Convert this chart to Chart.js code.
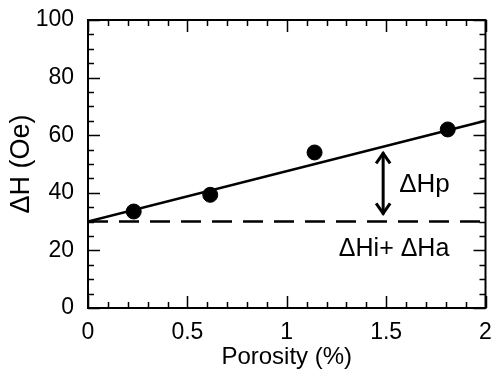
<!DOCTYPE html>
<html>
<head>
<meta charset="utf-8">
<script src="https://cdn.jsdelivr.net/npm/chart.js@4/dist/chart.umd.min.js"></script>
<style>
html,body{margin:0;padding:0;background:#fff;}
#wrap{width:494px;height:372px;}
</style>
</head>
<body>
<div id="wrap"><canvas id="c" width="494" height="372"></canvas></div>
<script>
// Data
const porosity = [0.23, 0.615, 1.14, 1.81];
const deltaH = [33.5, 39.3, 54, 62];
const fitX = [0, 2];
const fitY = [30, 65];
const baseX = [0, 2];
const baseY = [30, 30];
const xTickValues = [0, 0.5, 1, 1.5, 2];
const xTickLabels = ['0', '0.5', '1', '1.5', '2'];
const yTickValues = [0, 20, 40, 60, 80, 100];
const arrowX = 1.485;
const arrowFrom = 32.5;
const arrowTo = 54;
const labelHp = 'ΔHp';
const labelHiHa = 'ΔHi+ ΔHa';

const FONT = '"Liberation Sans", Arial, Helvetica, sans-serif';

const frame = {
  id: 'frame',
  afterDatasetsDraw(chart) {
    const {ctx, chartArea: a, scales: {x, y}} = chart;
    ctx.save();
    ctx.strokeStyle = '#000';
    ctx.lineWidth = 2;
    ctx.strokeRect(a.left, a.top, a.right - a.left, a.bottom - a.top);
    ctx.lineWidth = 1.5;
    for (let i = 0; i <= 20; i++) {
      const v = i / 10;
      const px = Math.round(x.getPixelForValue(v)) + 0.5;
      const len = (i % 5 === 0) ? 12 : 6;
      ctx.beginPath();
      ctx.moveTo(px, a.bottom); ctx.lineTo(px, a.bottom - len);
      ctx.moveTo(px, a.top); ctx.lineTo(px, a.top + len);
      ctx.stroke();
    }
    for (let i = 0; i <= 20; i++) {
      const v = i * 5;
      const py = Math.round(y.getPixelForValue(v)) + 0.5;
      const len = (i % 4 === 0) ? 12 : 6;
      ctx.beginPath();
      ctx.moveTo(a.left, py); ctx.lineTo(a.left + len, py);
      ctx.moveTo(a.right, py); ctx.lineTo(a.right - len, py);
      ctx.stroke();
    }
    const ax = x.getPixelForValue(arrowX);
    const y1 = y.getPixelForValue(arrowFrom);
    const y2 = y.getPixelForValue(arrowTo);
    ctx.lineWidth = 3;
    ctx.beginPath();
    ctx.moveTo(ax, y1); ctx.lineTo(ax, y2);
    ctx.stroke();
    ctx.lineJoin = 'miter';
    ctx.beginPath();
    ctx.moveTo(ax - 7, y2 + 11); ctx.lineTo(ax, y2 + 1); ctx.lineTo(ax + 7, y2 + 11);
    ctx.moveTo(ax - 7, y1 - 11); ctx.lineTo(ax, y1 - 1); ctx.lineTo(ax + 7, y1 - 11);
    ctx.stroke();
    ctx.fillStyle = '#000';
    ctx.font = '26px ' + FONT;
    ctx.textBaseline = 'middle';
    ctx.textAlign = 'left';
    ctx.fillText(labelHp, ax + 16, (y1 + y2) / 2 + 1);
    ctx.font = '25px ' + FONT;
    ctx.textAlign = 'center';
    ctx.fillText(labelHiHa, x.getPixelForValue(1.54), y.getPixelForValue(20.5));
    ctx.restore();
  }
};

new Chart(document.getElementById('c'), {
  type: 'scatter',
  data: {
    datasets: [
      {
        type: 'line',
        data: fitX.map((v, i) => ({x: v, y: fitY[i]})),
        borderColor: '#000', borderWidth: 2.5, pointRadius: 0, fill: false
      },
      {
        type: 'line',
        data: baseX.map((v, i) => ({x: v, y: baseY[i]})),
        borderColor: '#000', borderWidth: 2.5, borderDash: [20, 11], pointRadius: 0, fill: false
      },
      {
        data: porosity.map((v, i) => ({x: v, y: deltaH[i]})),
        backgroundColor: '#000', borderColor: '#000', pointRadius: 7.5, pointHoverRadius: 7.5
      }
    ]
  },
  options: {
    responsive: false,
    animation: false,
    events: [],
    layout: {padding: {top: 20, right: 6, left: 0, bottom: 0}},
    plugins: {legend: {display: false}, tooltip: {enabled: false}},
    scales: {
      x: {
        type: 'linear', min: 0, max: 2,
        grid: {display: false, drawTicks: false},
        border: {display: false},
        afterBuildTicks: s => { s.ticks = xTickValues.map(v => ({value: v})); },
        ticks: {
          color: '#000', padding: 11, maxRotation: 0,
          font: {family: FONT, size: 23},
          callback: (v) => xTickLabels[xTickValues.indexOf(v)]
        },
        title: {display: true, text: 'Porosity (%)', color: '#000', font: {family: FONT, size: 24}, padding: {top: 0, bottom: 0}},
        afterFit: s => { s.height = 64; s.paddingLeft = 0; s.paddingRight = 0; }
      },
      y: {
        type: 'linear', min: 0, max: 100,
        grid: {display: false, drawTicks: false},
        border: {display: false},
        afterBuildTicks: s => { s.ticks = yTickValues.map(v => ({value: v})); },
        ticks: {color: '#000', padding: 14, font: {family: FONT, size: 23}},
        title: {display: true, text: 'ΔH (Oe)', color: '#000', font: {family: FONT, size: 27}, padding: {top: 5, bottom: 2}},
        afterFit: s => { s.width = 88; s.paddingTop = 0; s.paddingBottom = 0; }
      }
    }
  },
  plugins: [frame]
});
</script>
</body>
</html>
